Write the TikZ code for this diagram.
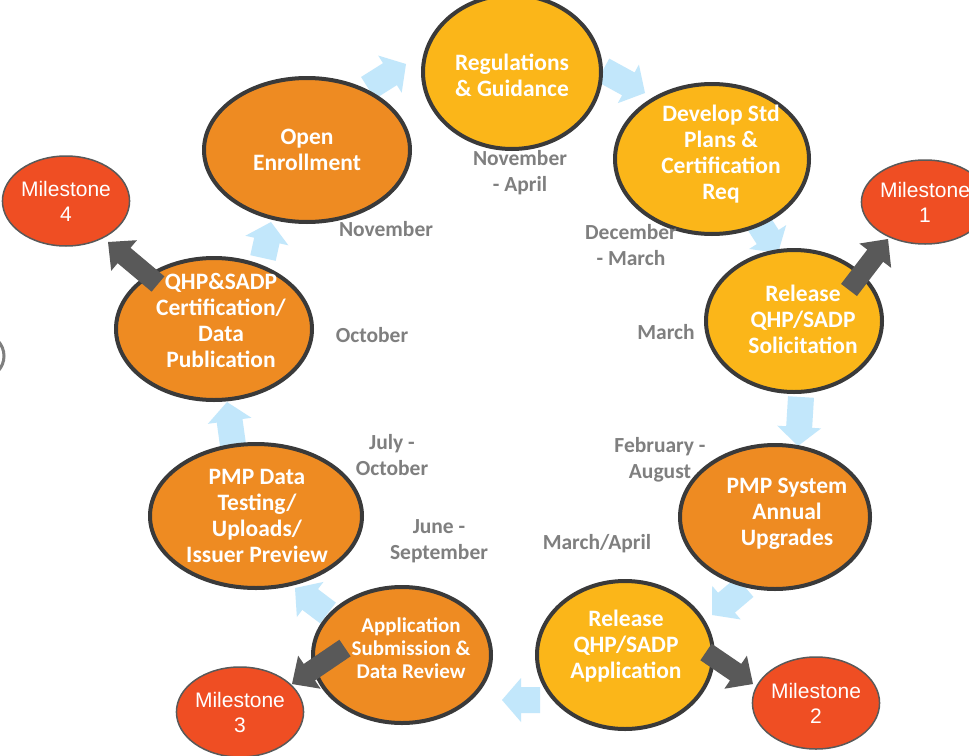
\documentclass[tikz,border=0pt]{standalone}
\usepackage{fontspec}
\setmainfont{Carlito}
\newfontfamily\msfont{Liberation Sans}
\usetikzlibrary{shapes.geometric,calc}

\definecolor{yel}{RGB}{251,182,25}
\definecolor{org}{RGB}{238,139,34}
\definecolor{mst}{RGB}{239,78,35}
\definecolor{rim}{RGB}{58,58,58}
\definecolor{sky}{RGB}{194,231,251}
\definecolor{slate}{RGB}{89,89,89}
\definecolor{month}{RGB}{127,127,127}

% block arrow from tail #2 to tip #3; #1 = style, #4 shaft half width, #5 head half width, #6 head length
\newcommand\blockarr[6]{%
  \coordinate (hb) at ($(#3)!#6pt!(#2)$);
  \fill[#1] ($(#2)!#4pt!90:(#3)$) -- ($(hb)!#4pt!-90:(#2)$) -- ($(hb)!#5pt!-90:(#2)$)
    -- (#3) -- ($(hb)!#5pt!90:(#2)$) -- ($(hb)!#4pt!90:(#2)$) -- ($(#2)!#4pt!-90:(#3)$) -- cycle;
}

\tikzset{
  stage/.style={ellipse, draw=rim, line width=4pt, inner sep=0pt},
  ystage/.style={stage, fill=yel},
  ostage/.style={stage, fill=org},
  lbl/.style={text=white, font=\bfseries\fontsize{23.5}{26}\selectfont, align=center, inner sep=0pt},
  mile/.style={ellipse, draw=slate, line width=1.5pt, fill=mst, text=white,
    font=\msfont\fontsize{21}{25}\selectfont, align=center, inner sep=0pt},
  mon/.style={text=month, font=\bfseries\fontsize{21.5}{26}\selectfont, align=center, inner sep=0pt},
  flow/.style={fill=sky},
  goal/.style={fill=slate},
}

\begin{document}
\begin{tikzpicture}[x=1pt, y=-1pt]
\useasboundingbox (0,0) rectangle (969,755);
\clip (0,0) rectangle (969,755);
\fill[white] (0,0) rectangle (969,755);

% light blue flow arrows between the stages
\blockarr{flow}{368,88}{406,64}{13}{22}{19}
\blockarr{flow}{603,70}{645,93}{13}{22}{19}
\blockarr{flow}{758,222}{778,253}{13}{22}{19}
\blockarr{flow}{801,397}{798,446}{13}{22}{19}
\blockarr{flow}{745,587}{712,615}{13}{22}{19}
\blockarr{flow}{540,700}{502,700}{13}{22}{19}
\blockarr{flow}{328,613}{295,588}{13}{22}{19}
\blockarr{flow}{233,445}{227,402}{13}{22}{19}
\blockarr{flow}{263,258}{271,222}{13}{22}{19}

% partial circle at the left edge
\draw[month, line width=3pt] (-18,356) circle (22);

% stages of the cycle
\node[ystage, minimum width=178, minimum height=154] (reg) at (512,72) {};
\node[ystage, minimum width=194, minimum height=150] (dev) at (712,159) {};
\node[ystage, minimum width=176, minimum height=142] (sol) at (794,321) {};
\node[ostage, minimum width=190, minimum height=144] (sys) at (775,517) {};
\node[ystage, minimum width=176, minimum height=148] (app) at (625,655) {};
\node[ostage, minimum width=178, minimum height=136] (sub) at (402,655) {};
\node[ostage, minimum width=212, minimum height=144] (pmp) at (256,516) {};
\node[ostage, minimum width=196, minimum height=142] (cert) at (214,329) {};
\node[ostage, minimum width=206, minimum height=144] (oe) at (307,150) {};

% milestones
\node[mile, minimum width=114, minimum height=90] (m4) at (66,201) {Milestone\\4};
\node[mile, minimum width=116, minimum height=84] (m1) at (925,202) {Milestone\\1};
\node[mile, minimum width=115, minimum height=92] (m2) at (816,703) {Milestone\\2};
\node[mile, minimum width=114, minimum height=90] (m3) at (240,712) {Milestone\\3};

% dark arrows towards the milestones
\blockarr{goal}{158,284}{108,242}{10}{20}{21}
\blockarr{goal}{849,290}{888,239}{10}{20}{21}
\blockarr{goal}{706,652}{753,684}{10}{20}{21}
\blockarr{goal}{345,648}{292,684}{10}{20}{21}

% stage texts
\node[lbl] (treg) at (512,75) {Regulations\\\& Guidance};
\node[lbl] (tdev) at (721,154) {Develop Std\\Plans \&\\Certification\\Req};
\node[lbl] (tsol) at (803,319) {Release\\QHP/SADP\\Solicitation};
\node[lbl] (tsys) at (787,514) {PMP System\\Annual\\Upgrades};
\node[lbl] (tapp) at (626,646) {Release\\QHP/SADP\\Application};
\node[lbl, font=\bfseries\fontsize{21}{23}\selectfont] (tsub) at (411,648) {Application\\Submission \&\\Data Review};
\node[lbl] (tpmp) at (257,516) {PMP Data\\Testing/\\Uploads/\\Issuer Preview};
\node[lbl] (tcert) at (221,320) {QHP\&SADP\\Certification/\\Data\\Publication};
\node[lbl] (toe) at (307,150) {Open\\Enrollment};

% timing labels
\node[mon] (n1) at (520,173) {November\\- April};
\node[mon] (n2) at (386,229) {November};
\node[mon] (n3) at (631,245) {December\\- March};
\node[mon] (n4) at (666,332) {March};
\node[mon] (n5) at (372,335) {October};
\node[mon] (n6) at (660,460) {February -\\August};
\node[mon] (n7) at (392,455) {July -\\October};
\node[mon] (n8) at (439,541) {June -\\September};
\node[mon] (n9) at (597,544) {March/April};
\end{tikzpicture}
\end{document}
